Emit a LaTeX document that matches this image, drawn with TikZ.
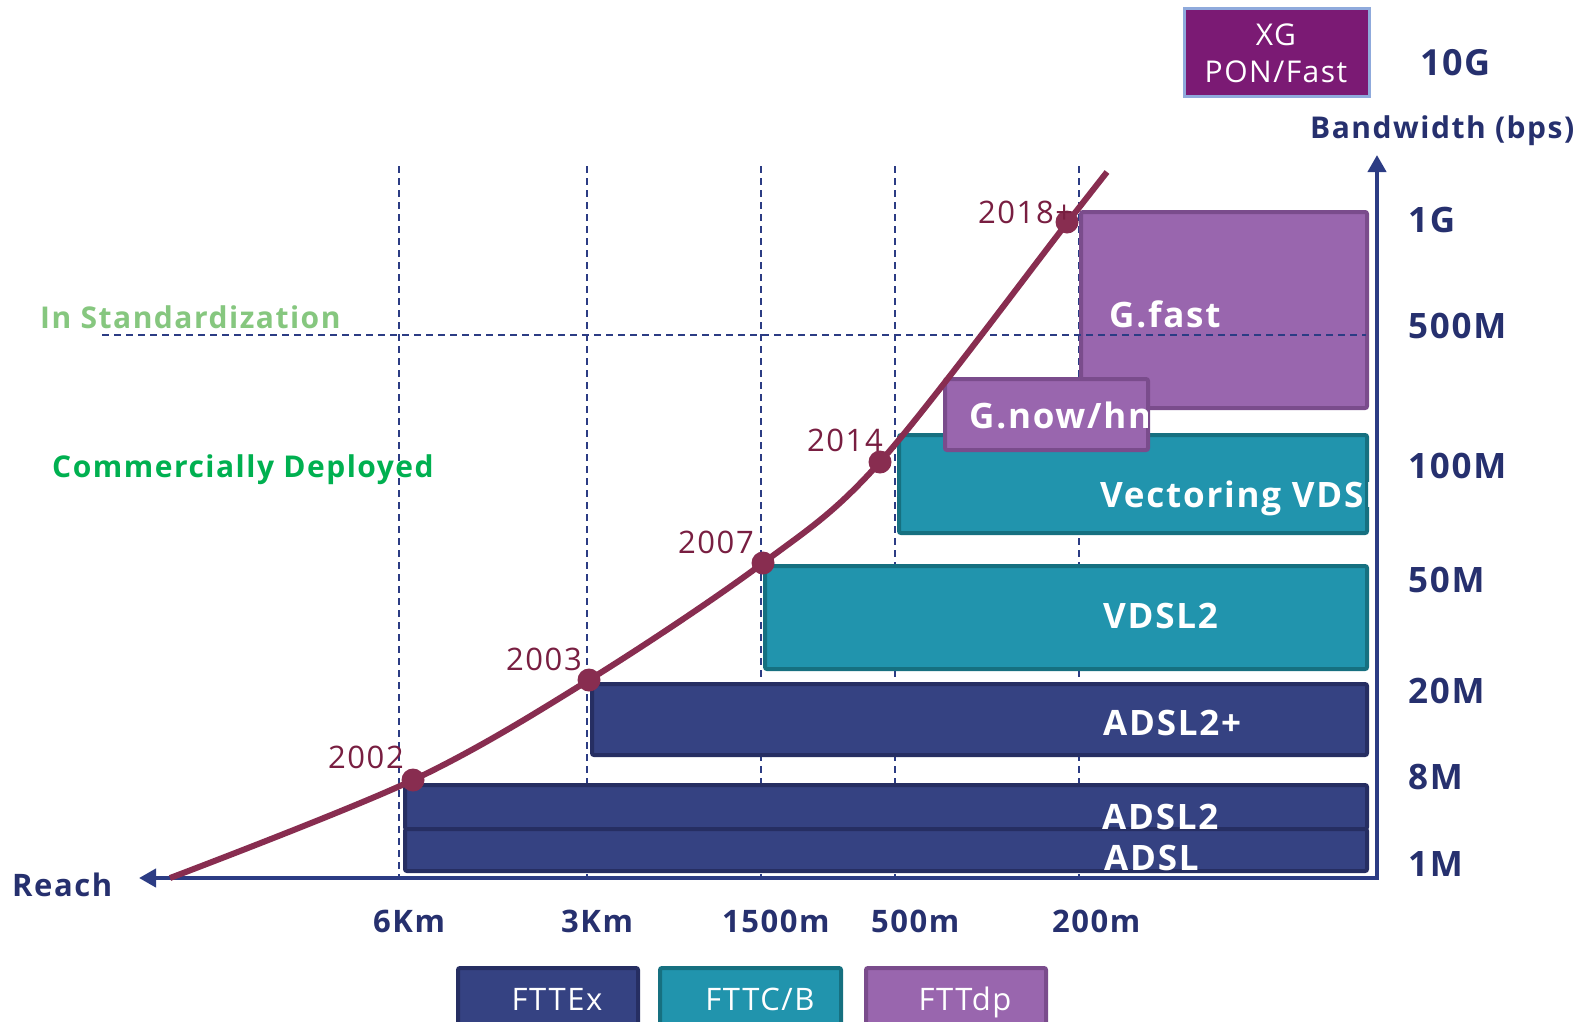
\documentclass[tikz,border=0pt]{standalone}
\usepackage{fontspec}
\setmainfont{Open Sans}[LetterSpace=5]
\usetikzlibrary{arrows.meta}
\definecolor{axcol}{RGB}{44,60,132}
\definecolor{txtnavy}{RGB}{38,48,110}
\definecolor{curvec}{RGB}{136,45,80}
\definecolor{yearc}{RGB}{120,30,65}
\definecolor{navyF}{RGB}{53,66,130}
\definecolor{navyB}{RGB}{38,46,98}
\definecolor{tealF}{RGB}{33,148,173}
\definecolor{tealB}{RGB}{22,112,128}
\definecolor{purF}{RGB}{153,102,174}
\definecolor{purB}{RGB}{122,76,140}
\definecolor{xgF}{RGB}{123,26,116}
\definecolor{xgB}{RGB}{143,170,220}
\definecolor{lgreen}{RGB}{134,199,127}
\definecolor{dgreen}{RGB}{0,176,80}
\newcommand\myfz[1]{\fontsize{#1}{#1}\selectfont}
\tikzset{
  axisline/.style={draw=axcol, line width=4pt},
  gridline/.style={draw=axcol, line width=1.5pt, dash pattern=on 7pt off 5pt},
  bnavy/.style={draw=navyB, fill=navyF, line width=4pt, rounded corners=2pt},
  bteal/.style={draw=tealB, fill=tealF, line width=4pt, rounded corners=2pt},
  bpur/.style={draw=purB, fill=purF, line width=4pt, rounded corners=2pt},
  boxlabel/.style={anchor=base west, inner sep=0pt, text=white, font=\myfz{35}\bfseries},
  ylab/.style={anchor=base west, inner sep=0pt, text=txtnavy, font=\myfz{35}\bfseries},
  xlab/.style={anchor=base west, inner sep=0pt, text=txtnavy, font=\myfz{31}\bfseries},
  year/.style={anchor=base west, inner sep=0pt, text=yearc, font=\myfz{31}},
  dot/.style={circle, fill=curvec, inner sep=0pt, minimum size=23pt},
  curveline/.style={draw=curvec, line width=6pt},
  legtext/.style={anchor=base, inner sep=0pt, text=white, font=\myfz{31}},
}
\begin{document}
\begin{tikzpicture}[x=1pt,y=-1pt]
\useasboundingbox (0,0) rectangle (1592,1021);
% vertical grid lines
\foreach \x in {399,587,761,895,1079} {\draw[gridline] (\x,166) -- (\x,878);}
% boxes
\draw[bpur] (1081,212) rectangle (1367,408);
\draw[bteal] (899,435) rectangle (1367,533);
\draw[bteal] (765,566) rectangle (1367,669);
\draw[bnavy] (592,684) rectangle (1367,755);
\draw[bnavy] (405,785) rectangle (1367,829);
\draw[bnavy] (405,829) rectangle (1367,871);
\draw[bpur] (945,379) rectangle (1148,450);
% horizontal dashed line
\draw[gridline] (102,335) -- (1366,335);
% box labels
\node[boxlabel] (gfast) at (1109,327) {G.fast};
\begin{scope}
\clip (940,370) rectangle (1147,460);
\node[boxlabel] (gnow) at (969,428) {G.now/hn};
\end{scope}
\begin{scope}
\clip (890,430) rectangle (1375,540);
\node[boxlabel] (vect) at (1100,507) {Vectoring VDSL2};
\end{scope}
\node[boxlabel] (vdsl2) at (1103,628) {VDSL2};
\node[boxlabel] (adsl2p) at (1103,735) {ADSL2+};
\node[boxlabel] (adsl2) at (1102,829) {ADSL2};
\node[boxlabel] (adsl) at (1104,870) {ADSL};
% axes
\draw[axisline, {Triangle[length=17pt,width=18pt]}-{Triangle[length=17pt,width=18pt]}] (139,878) -- (1377,878) -- (1377,155);
% curve
\draw[curveline] plot[smooth, tension=0.55] coordinates {(170,878) (413,780) (589,680) (763,563) (880,462) (1067,223) (1107,172)};
\node[dot] (d2002) at (413,780) {};
\node[dot] (d2003) at (589,680) {};
\node[dot] (d2007) at (763,563) {};
\node[dot] (d2014) at (880,462) {};
\node[dot] (d2018) at (1067,222) {};
\node[year] (y2002) at (328,768) {2002};
\node[year] (y2003) at (506,670) {2003};
\node[year] (y2007) at (678,553) {2007};
\node[year] (y2014) at (807,451) {2014};
\node[year] (y2018) at (978,223) {2018+};
% XG box
\node[draw=xgB, fill=xgF, line width=3pt, minimum width=185pt, minimum height=88pt, inner sep=0pt] (xg) at (1276.5,52) {};
\node[anchor=base, inner sep=0pt, text=white, font=\myfz{30}] (xg1) at (1276,45) {XG};
\node[anchor=base, inner sep=0pt, text=white, font=\myfz{30}] (xg2) at (1276,82) {PON/Fast};
% right labels
\node[ylab, font=\myfz{36}\bfseries] (l10g) at (1420,75) {10G};
\node[ylab, font=\myfz{30}\bfseries] (bw) at (1310,138) {Bandwidth (bps)};
\node[ylab] (l1g) at (1408,232) {1G};
\node[ylab] (l500) at (1408,338) {500M};
\node[ylab] (l100) at (1408,478) {100M};
\node[ylab] (l50) at (1408,592) {50M};
\node[ylab] (l20) at (1408,703) {20M};
\node[ylab] (l8) at (1408,789) {8M};
\node[ylab] (l1) at (1408,876) {1M};
% left labels
\node[anchor=base west, inner sep=0pt, text=lgreen, font=\myfz{30}\bfseries] (stdz) at (40,328) {In Standardization};
\node[anchor=base west, inner sep=0pt, text=dgreen, font=\myfz{30}\bfseries] (comm) at (52,477) {Commercially Deployed};
\node[xlab] (reach) at (12,896) {Reach};
% bottom labels
\node[xlab] (k6) at (373,932) {6Km};
\node[xlab] (k3) at (561,932) {3Km};
\node[xlab] (m1500) at (722,932) {1500m};
\node[xlab] (m500) at (871,932) {500m};
\node[xlab] (m200) at (1052,932) {200m};
% legend
\draw[bnavy] (458,968) rectangle (638,1030);
\draw[bteal] (660,968) rectangle (841,1030);
\draw[bpur] (866,968) rectangle (1046,1030);
\node[legtext] (lg1) at (557,1010) {FTTEx};
\node[legtext] (lg2) at (760,1010) {FTTC/B};
\node[legtext] (lg3) at (965,1010) {FTTdp};
\end{tikzpicture}
\end{document}
